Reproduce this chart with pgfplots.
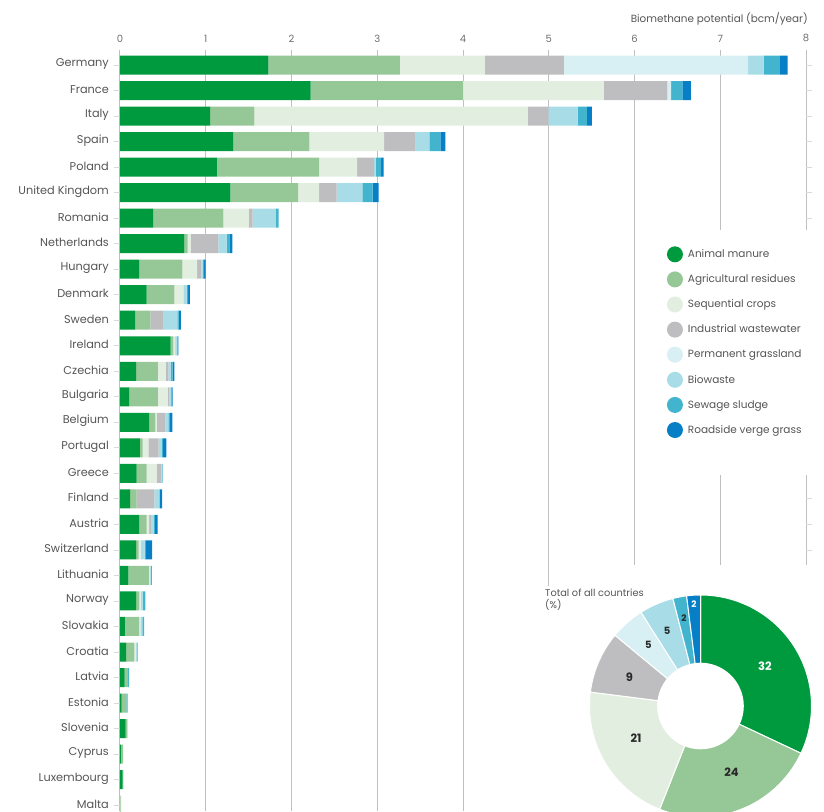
\documentclass[border=0pt]{standalone}
\usepackage{pgfplots}
\pgfplotsset{compat=1.18}
\usepackage{pgfplotstable}
\usepackage{fontspec}
\setmainfont{Poppins}
\definecolor{cAM}{RGB}{0,154,62}
\definecolor{cAR}{RGB}{150,199,150}
\definecolor{cSC}{RGB}{226,239,224}
\definecolor{cIW}{RGB}{190,190,192}
\definecolor{cPG}{RGB}{216,239,244}
\definecolor{cBW}{RGB}{168,221,232}
\definecolor{cSS}{RGB}{66,180,205}
\definecolor{cRV}{RGB}{6,127,198}
\definecolor{txt}{RGB}{85,85,85}
\definecolor{dtxt}{RGB}{40,40,40}
\definecolor{gridc}{RGB}{192,192,192}

% bcm/year per feedstock
\pgfplotstableread{
idx AM AR SC IW PG BW SS RV
0 1.730 1.535 0.990 0.920 2.150 0.180 0.190 0.090
1 2.224 1.776 1.644 0.739 0.043 0.000 0.132 0.100
2 1.050 0.516 3.188 0.241 0.000 0.343 0.108 0.058
3 1.321 0.887 0.871 0.369 0.000 0.159 0.129 0.058
4 1.131 1.190 0.443 0.198 0.000 0.020 0.062 0.031
5 1.287 0.789 0.245 0.206 0.000 0.299 0.121 0.070
6 0.389 0.816 0.299 0.043 0.000 0.272 0.031 0.000
7 0.750 0.039 0.035 0.322 0.000 0.098 0.031 0.035
8 0.222 0.505 0.171 0.050 0.000 0.016 0.016 0.019
9 0.311 0.323 0.105 0.000 0.000 0.039 0.015 0.023
10 0.175 0.179 0.000 0.156 0.000 0.158 0.015 0.028
11 0.591 0.031 0.020 0.005 0.000 0.013 0.012 0.008
12 0.187 0.256 0.093 0.027 0.000 0.027 0.024 0.019
13 0.105 0.338 0.113 0.019 0.000 0.014 0.014 0.011
14 0.342 0.070 0.019 0.098 0.000 0.035 0.019 0.027
15 0.233 0.031 0.066 0.120 0.000 0.039 0.010 0.043
16 0.194 0.117 0.117 0.054 0.000 0.008 0.007 0.000
17 0.117 0.077 0.000 0.206 0.000 0.059 0.006 0.025
18 0.226 0.085 0.030 0.028 0.000 0.027 0.012 0.032
19 0.187 0.031 0.023 0.000 0.000 0.045 0.015 0.075
20 0.097 0.241 0.012 0.000 0.000 0.008 0.004 0.007
21 0.187 0.039 0.015 0.000 0.000 0.022 0.032 0.000
22 0.058 0.164 0.015 0.000 0.000 0.023 0.020 0.000
23 0.070 0.097 0.016 0.000 0.000 0.010 0.013 0.000
24 0.055 0.040 0.000 0.000 0.000 0.000 0.012 0.000
25 0.020 0.055 0.000 0.000 0.000 0.000 0.015 0.000
26 0.065 0.015 0.000 0.000 0.000 0.000 0.005 0.000
27 0.010 0.025 0.000 0.000 0.000 0.000 0.000 0.000
28 0.030 0.008 0.000 0.000 0.000 0.000 0.000 0.000
29 0.000 0.008 0.008 0.000 0.000 0.000 0.000 0.000
}\bars

\begin{document}
\begin{tikzpicture}
\begin{axis}[
  at={(0pt,0pt)}, anchor=south west,
  scale only axis, width=686pt, height=761.3pt,
  xbar stacked, bar width=19pt,
  xmin=0, xmax=8, ymin=-0.6, ymax=29.23, y dir=reverse,
  clip=false,
  axis line style={draw=none},
  xtick={0,1,...,8}, xticklabel pos=upper,
  xtick style={draw=none},
  xmajorgrids, grid style={draw=gridc, line width=1pt},
  ytick={0,1,...,29},
  yticklabels={Germany,France,Italy,Spain,Poland,United Kingdom,Romania,Netherlands,Hungary,Denmark,Sweden,Ireland,Czechia,Bulgaria,Belgium,Portugal,Greece,Finland,Austria,Switzerland,Lithuania,Norway,Slovakia,Croatia,Latvia,Estonia,Slovenia,Cyprus,Luxembourg,Malta},
  ytick style={draw=gridc!60, line width=0.8pt},
  tick align=outside, major tick length=6pt,
  yticklabel style={font=\fontsize{11.3}{12}\selectfont, text=txt, inner sep=0pt, xshift=-5pt, yshift=1.2pt},
  xticklabel style={font=\fontsize{10}{12}\selectfont, text=txt!85, yshift=-2pt},
  /pgf/number format/assume math mode=true,
  xlabel={Biomethane potential (bcm/year)},
  xlabel style={at={(axis description cs:1,1)}, anchor=base east, yshift=27pt, xshift=2pt, inner sep=0pt, font=\fontsize{10.4}{12}\selectfont, text=txt},
  legend style={at={(axis description cs:0.797,0.742)}, anchor=north west, draw=none, fill=none, inner sep=0pt, font=\fontsize{10.5}{12}\selectfont, text=txt, row sep=9.1pt},
  legend cell align=left,
  legend image code/.code={\fill[#1,draw=none] (6pt,0pt) circle (8pt);},
  legend style={/tikz/every odd column/.append style={column sep=3pt}},
]
\fill[white] (axis cs:6.18,6.47) rectangle (axis cs:8.4,16.07);
\fill[white] (axis cs:5.89,19.6) rectangle (axis cs:8.4,30);
\fill[white] (axis cs:4.87,20.4) rectangle (axis cs:8.4,30);
\addplot[fill=cAM, draw=none] table[x=AM, y=idx] {\bars};
\addplot[fill=cAR, draw=none] table[x=AR, y=idx] {\bars};
\addplot[fill=cSC, draw=none] table[x=SC, y=idx] {\bars};
\addplot[fill=cIW, draw=none] table[x=IW, y=idx] {\bars};
\addplot[fill=cPG, draw=none] table[x=PG, y=idx] {\bars};
\addplot[fill=cBW, draw=none] table[x=BW, y=idx] {\bars};
\addplot[fill=cSS, draw=none] table[x=SS, y=idx] {\bars};
\addplot[fill=cRV, draw=none] table[x=RV, y=idx] {\bars};
\legend{Animal manure,Agricultural residues,Sequential crops,Industrial wastewater,Permanent grassland,Biowaste,Sewage sludge,Roadside verge grass}
\end{axis}

% Donut: shares in % (32, 24, 21, 9, 5, 5, 2, 2), clockwise from the top
\begin{axis}[at={(580.5pt,105pt)}, anchor=center, scale only axis,
  width=222pt, height=222pt, xmin=-1, xmax=1, ymin=-1, ymax=1,
  hide axis, clip=false]
\addplot[fill=cAM, draw=white, line width=1pt, domain=-25.2:90, samples=60] ({cos(x)},{sin(x)}) -- (axis cs:0,0) -- cycle;
\addplot[fill=cAR, draw=white, line width=1pt, domain=-111.6:-25.2, samples=50] ({cos(x)},{sin(x)}) -- (axis cs:0,0) -- cycle;
\addplot[fill=cSC, draw=white, line width=1pt, domain=-187.2:-111.6, samples=50] ({cos(x)},{sin(x)}) -- (axis cs:0,0) -- cycle;
\addplot[fill=cIW, draw=white, line width=1pt, domain=-219.6:-187.2, samples=25] ({cos(x)},{sin(x)}) -- (axis cs:0,0) -- cycle;
\addplot[fill=cPG, draw=white, line width=1pt, domain=-237.6:-219.6, samples=15] ({cos(x)},{sin(x)}) -- (axis cs:0,0) -- cycle;
\addplot[fill=cBW, draw=white, line width=1pt, domain=-255.6:-237.6, samples=15] ({cos(x)},{sin(x)}) -- (axis cs:0,0) -- cycle;
\addplot[fill=cSS, draw=white, line width=1pt, domain=-262.8:-255.6, samples=8] ({cos(x)},{sin(x)}) -- (axis cs:0,0) -- cycle;
\addplot[fill=cRV, draw=white, line width=1pt, domain=-270:-262.8, samples=8] ({cos(x)},{sin(x)}) -- (axis cs:0,0) -- cycle;
\addplot[fill=white, draw=none, domain=0:360, samples=90] ({0.39*cos(x)},{0.39*sin(x)}) -- cycle;
\node[text=white, font=\fontsize{11.5}{12}\selectfont\bfseries] at (axis cs:0.58,0.36) {32};
\node[text=dtxt, font=\fontsize{11.5}{12}\selectfont\bfseries] at (axis cs:0.28,-0.60) {24};
\node[text=dtxt, font=\fontsize{11.5}{12}\selectfont\bfseries] at (axis cs:-0.58,-0.29) {21};
\node[text=dtxt, font=\fontsize{11.5}{12}\selectfont\bfseries] at (axis cs:-0.64,0.26) {9};
\node[text=dtxt, font=\fontsize{10}{12}\selectfont\bfseries] at (axis cs:-0.47,0.55) {5};
\node[text=dtxt, font=\fontsize{10}{12}\selectfont\bfseries] at (axis cs:-0.30,0.68) {5};
\node[text=dtxt, font=\fontsize{9}{12}\selectfont\bfseries] at (axis cs:-0.15,0.79) {2};
\node[text=white, font=\fontsize{9}{12}\selectfont\bfseries] at (axis cs:-0.06,0.92) {2};
\end{axis}
\node[anchor=north west, align=left, inner sep=0pt, font=\fontsize{9.8}{12}\selectfont, text=txt] at (425pt,222pt) {Total of all countries\\(\%)};
\pgfresetboundingbox
\path (-120pt,0pt) rectangle (704pt,811pt);
\end{tikzpicture}
\end{document}
